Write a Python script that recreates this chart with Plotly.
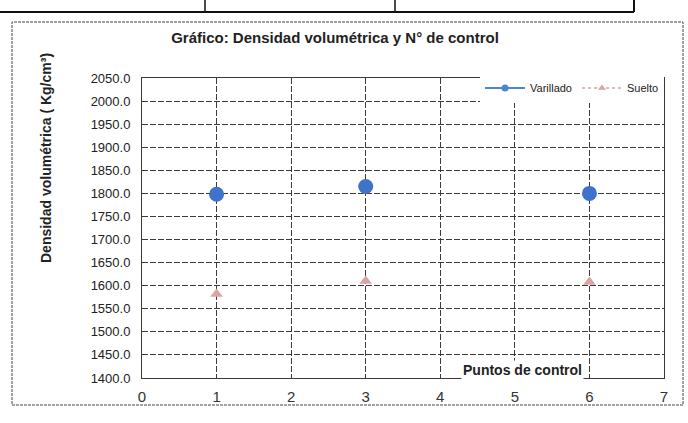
import plotly.graph_objects as go

# Data
puntos = [1, 3, 6]
varillado = [1798, 1815, 1800]
suelto = [1582, 1610, 1608]

y_ticks = [1400 + 50 * i for i in range(14)]
y_tick_labels = [f"{v:.1f}" for v in y_ticks]
x_ticks = [0, 1, 2, 3, 4, 5, 6, 7]

FONT = "Liberation Sans Narrow, Liberation Sans, Arial"
GRID = "#3a3a3a"

fig = go.Figure()

fig.add_trace(go.Scatter(
    x=puntos, y=varillado, mode="markers", name="Varillado", showlegend=False,
    marker=dict(symbol="circle", size=15, color="#3f72c8"),
))
fig.add_trace(go.Scatter(
    x=puntos, y=suelto, mode="markers", name="Suelto", showlegend=False,
    marker=dict(symbol="triangle-up", size=11, color="#dba3a3"),
))
# legend entries (line + marker style as in the original legend)
fig.add_trace(go.Scatter(
    x=[None], y=[None], mode="lines+markers", name="Varillado",
    line=dict(color="#4a86d4", width=2),
    marker=dict(symbol="circle", size=7, color="#4a86d4"),
))
fig.add_trace(go.Scatter(
    x=[None], y=[None], mode="lines+markers", name="Suelto",
    line=dict(color="#dba3a3", width=1.5, dash="dot"),
    marker=dict(symbol="triangle-up", size=7, color="#dba3a3"),
))

L, R, T, B = 142, 664, 78, 378
W, H = R - L, B - T

def px(x):
    return (x - L) / W

def py(y):
    return (B - y) / H

shapes = [
    # outer frame
    dict(type="rect", xref="paper", yref="paper",
         x0=px(12), x1=px(683), y0=py(405), y1=py(22),
         line=dict(color="#444444", width=1, dash="3px,1px")),
    # table fragment at top
    dict(type="line", xref="paper", yref="paper",
         x0=px(0), x1=px(634), y0=py(12), y1=py(12),
         line=dict(color="#111111", width=2)),
    dict(type="line", xref="paper", yref="paper",
         x0=px(205), x1=px(205), y0=py(0), y1=py(12),
         line=dict(color="#111111", width=1.5)),
    dict(type="line", xref="paper", yref="paper",
         x0=px(395), x1=px(395), y0=py(0), y1=py(12),
         line=dict(color="#111111", width=1.5)),
    dict(type="line", xref="paper", yref="paper",
         x0=px(634), x1=px(634), y0=py(0), y1=py(12),
         line=dict(color="#111111", width=2)),
]

fig.update_layout(
    width=688, height=423,
    margin=dict(l=L, r=688 - R, t=T, b=423 - B),
    paper_bgcolor="white", plot_bgcolor="white",
    font=dict(family=FONT, color="#222222"),
    title=dict(text="<b>Gráfico: Densidad volumétrica y N° de control</b>",
               x=(335) / 688, xanchor="center", y=1 - 38 / 423, yanchor="middle",
               font=dict(size=15, color="#222222", family=FONT)),
    xaxis=dict(range=[0, 7], tickmode="array", tickvals=x_ticks,
               ticktext=[str(v) for v in x_ticks],
               showgrid=True, gridcolor=GRID, gridwidth=1, griddash="6px,2px",
               zeroline=False, showline=True, linecolor=GRID, linewidth=1, mirror=True,
               ticks="", ticklabelstandoff=5,
               tickfont=dict(size=15, color="#333333", family=FONT)),
    yaxis=dict(range=[1400, 2050], tickmode="array", tickvals=y_ticks,
               ticktext=y_tick_labels,
               showgrid=True, gridcolor=GRID, gridwidth=1, griddash="6px,2px",
               zeroline=False, showline=True, linecolor=GRID, linewidth=1, mirror=True,
               ticks="", ticklabelstandoff=8,
               tickfont=dict(size=13, color="#222222", family=FONT)),
    legend=dict(orientation="h", x=1, xanchor="right", y=py(88), yanchor="middle",
                bgcolor="rgba(255,255,255,1)", borderwidth=0,
                font=dict(size=11, color="#222222", family=FONT),
                itemwidth=40, tracegroupgap=0),
    shapes=shapes,
    annotations=[
        dict(text="<b>Puntos de control</b>", xref="paper", yref="paper",
             x=px(522), y=py(370), xanchor="center", yanchor="middle",
             showarrow=False, bgcolor="white",
             font=dict(size=14, color="#222222", family=FONT)),
        dict(text="<b>Densidad volumétrica ( Kg/cm³)</b>", xref="paper", yref="paper",
             x=px(46), y=py(158), xanchor="center", yanchor="middle",
             textangle=-90, showarrow=False,
             font=dict(size=14, color="#222222", family=FONT)),
    ],
)

fig.write_html("out.html")
